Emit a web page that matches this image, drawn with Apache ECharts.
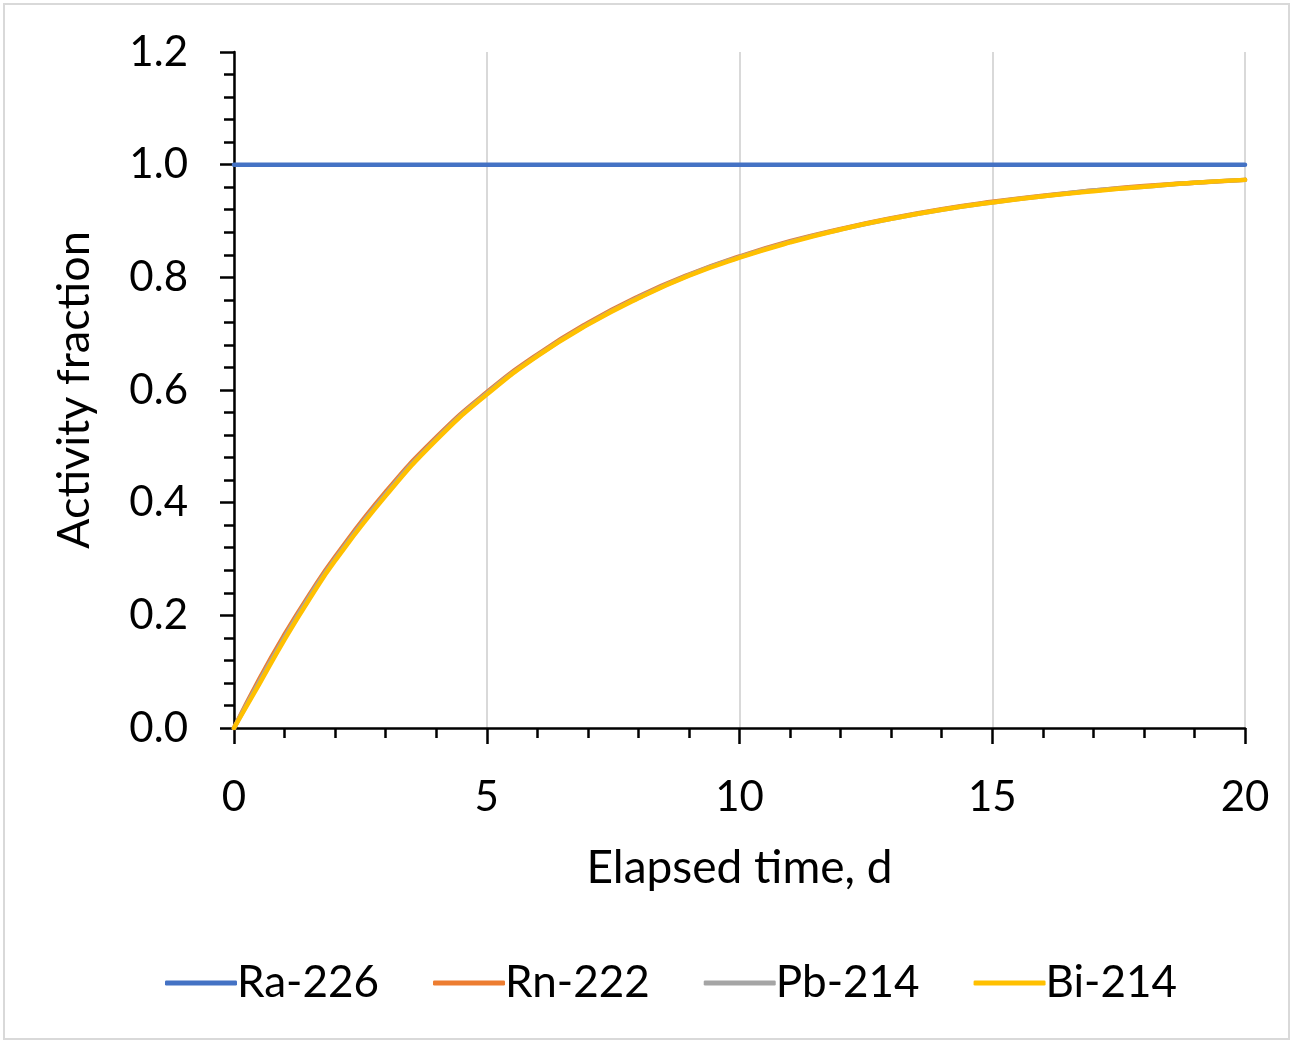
<!DOCTYPE html>
<html>
<head>
<meta charset="utf-8">
<script src="https://cdn.jsdelivr.net/npm/echarts@6/dist/echarts.min.js"></script>
<style>
  html, body { margin: 0; padding: 0; background: #fff; }
  #frame { position: absolute; left: 3px; top: 3px; width: 1283px; height: 1033px; border: 2px solid #d9d9d9; }
  #chart { position: absolute; left: 0; top: 0; width: 1291px; height: 1041px; }
</style>
</head>
<body>
<div id="frame"></div>
<div id="chart"></div>
<script>
// elapsed time, days
var days = [0, 0.5, 1, 1.5, 2, 3, 4, 5, 6, 7, 8, 9, 10, 11, 12, 13, 14, 15, 16, 17, 18, 19, 20];
// activity fractions
var ra226 = [1.0, 1.0, 1.0, 1.0, 1.0, 1.0, 1.0, 1.0, 1.0, 1.0, 1.0, 1.0, 1.0, 1.0, 1.0, 1.0, 1.0, 1.0, 1.0, 1.0, 1.0, 1.0, 1.0];
var rn222 = [0, 0.087, 0.166, 0.238, 0.304, 0.419, 0.516, 0.596, 0.663, 0.719, 0.766, 0.805, 0.837, 0.864, 0.886, 0.905, 0.921, 0.934, 0.945, 0.954, 0.962, 0.968, 0.973];
var pb214 = [0, 0.082, 0.161, 0.234, 0.300, 0.415, 0.513, 0.594, 0.661, 0.717, 0.764, 0.804, 0.836, 0.863, 0.885, 0.904, 0.920, 0.933, 0.944, 0.954, 0.961, 0.968, 0.973];
var bi214 = [0, 0.078, 0.157, 0.230, 0.297, 0.412, 0.511, 0.592, 0.660, 0.716, 0.763, 0.803, 0.835, 0.862, 0.885, 0.904, 0.920, 0.933, 0.944, 0.953, 0.961, 0.968, 0.973];
var names = ['Ra-226', 'Rn-222', 'Pb-214', 'Bi-214'];
var colors = ['#4472C4', '#ED7D31', '#A5A5A5', '#FFC000'];

function pairs(vals) {
    return days.map(function (d, i) { return [d, vals[i]]; });
}

var font = 'Lato, "Open Sans", sans-serif';
var allData = [ra226, rn222, pb214, bi214];

var myChart = echarts.init(document.getElementById('chart'));

var option = {
    backgroundColor: 'transparent',
    animation: false,
    textStyle: { fontFamily: font, color: '#000' },
    grid: { left: 234, right: 46, top: 52, bottom: 313 },
    legend: {
        bottom: 31,
        left: 160,
        icon: 'roundRect',
        itemWidth: 72,
        itemHeight: 5,
        itemGap: 54,
        textStyle: { fontFamily: font, fontSize: 44, color: '#000', padding: [0, 0, 0, -5] },
        data: names
    },
    xAxis: {
        type: 'value',
        min: 0,
        max: 20,
        interval: 5,
        name: 'Elapsed time, d',
        nameLocation: 'middle',
        nameGap: 117,
        nameTextStyle: { fontFamily: font, fontSize: 46, color: '#000' },
        axisLine: { lineStyle: { color: '#000', width: 2.5 } },
        axisTick: { show: true, length: 16, lineStyle: { color: '#000', width: 2.5 } },
        minorTick: { show: true, splitNumber: 5, length: 10, lineStyle: { color: '#000', width: 2.5 } },
        axisLabel: { fontFamily: font, fontSize: 42, color: '#000', margin: 48 },
        splitLine: { show: true, lineStyle: { color: '#d9d9d9', width: 2 } }
    },
    yAxis: {
        type: 'value',
        min: 0,
        max: 1.2,
        interval: 0.2,
        name: 'Activity fraction',
        nameLocation: 'middle',
        nameGap: 137,
        nameTextStyle: { fontFamily: font, fontSize: 45, color: '#000' },
        axisLine: { show: true, lineStyle: { color: '#000', width: 2.5 } },
        axisTick: { show: true, length: 14, lineStyle: { color: '#000', width: 2.5 } },
        minorTick: { show: true, splitNumber: 5, length: 10, lineStyle: { color: '#000', width: 2.5 } },
        axisLabel: {
            fontFamily: font, fontSize: 42, color: '#000', margin: 46,
            formatter: function (v) { return v.toFixed(1); }
        },
        splitLine: { show: false }
    },
    series: names.map(function (n, i) {
        return {
            name: n,
            type: 'line',
            smooth: true,
            symbol: 'none',
            color: colors[i],
            lineStyle: { width: 4.5, color: colors[i], cap: 'round' },
            data: pairs(allData[i])
        };
    })
};

myChart.setOption(option, true);
</script>
</body>
</html>
